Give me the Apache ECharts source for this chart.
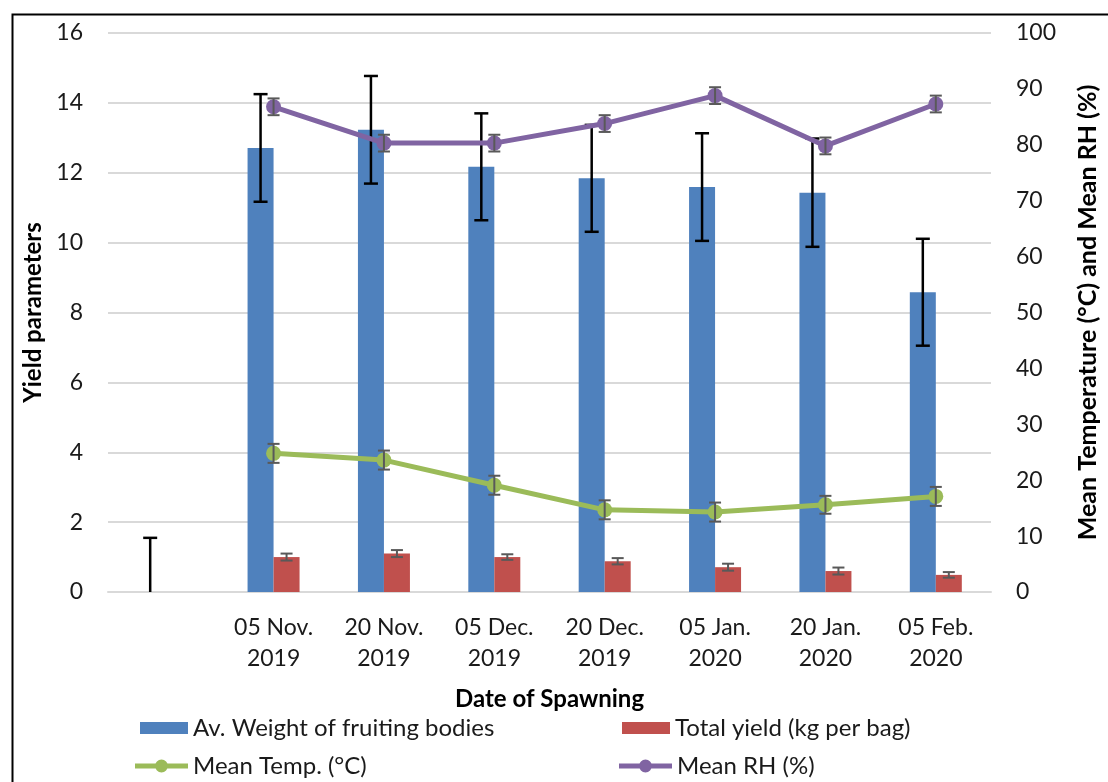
<!DOCTYPE html>
<html>
<head>
<meta charset="utf-8">
<script src="https://cdn.jsdelivr.net/npm/echarts@6/dist/echarts.min.js"></script>
<style>
html,body{margin:0;padding:0;background:#fff;}
#chart{width:1108px;height:782px;}
</style>
</head>
<body>
<div id="chart"></div>
<script>
// ---- data ----
var categories = ['', '05 Nov.\n2019', '20 Nov.\n2019', '05 Dec.\n2019', '20 Dec.\n2019', '05 Jan.\n2020', '20 Jan.\n2020', '05 Feb.\n2020'];
var avgWeight   = [0, 12.71, 13.23, 12.17, 11.84, 11.59, 11.43, 8.58];
var avgWeightSD = [1.55, 1.54, 1.54, 1.53, 1.53, 1.54, 1.55, 1.53];
var totalYield   = [null, 1.00, 1.10, 1.00, 0.88, 0.71, 0.60, 0.49];
var totalYieldSD = [null, 0.10, 0.10, 0.08, 0.09, 0.10, 0.10, 0.08];
var meanTemp   = [null, 24.8, 23.6, 19.1, 14.7, 14.3, 15.6, 17.1];
var meanTempSD = [null, 1.7, 1.7, 1.7, 1.7, 1.7, 1.6, 1.7];
var meanRH   = [null, 86.8, 80.3, 80.3, 83.8, 88.8, 79.8, 87.3];
var meanRHSD = [null, 1.5, 1.5, 1.5, 1.5, 1.5, 1.5, 1.5];
var leftTicks = {min: 0, max: 16, interval: 2};
var rightTicks = {min: 0, max: 100, interval: 10};

var FONT = 'Lato';
var C_BLUE = '#4F81BD', C_RED = '#C0504D', C_GREEN = '#9BBB59', C_PURPLE = '#8064A2';
var LINE_ICON = 'path://M0,4.5 L53,4.5 L53,9.5 L0,9.5 Z M20,7 A6.5,6.5 0 1,1 33,7 A6.5,6.5 0 1,1 20,7 Z';

function errData(vals, sds) {
  var out = [];
  vals.forEach(function (v, i) {
    if (v == null || sds[i] == null) return;
    out.push([i, v - sds[i], v + sds[i]]);
  });
  return out;
}
function errSeries(vals, sds, offset, color, capHalf, lw, yAxisIndex, axisMin, z) {
  return {
    type: 'custom',
    yAxisIndex: yAxisIndex,
    z: z,
    silent: true,
    encode: {x: 0, y: [1, 2]},
    data: errData(vals, sds),
    renderItem: function (params, api) {
      var i = api.value(0), lo = api.value(1), hi = api.value(2);
      var bottomCap = true;
      if (lo < axisMin) { lo = axisMin; bottomCap = false; }
      var pLo = api.coord([i, lo]), pHi = api.coord([i, hi]);
      var x = pLo[0] + offset;
      var st = {stroke: color, lineWidth: lw};
      var ch = [
        {type: 'line', shape: {x1: x, y1: pLo[1], x2: x, y2: pHi[1]}, style: st},
        {type: 'line', shape: {x1: x - capHalf, y1: pHi[1], x2: x + capHalf, y2: pHi[1]}, style: st}
      ];
      if (bottomCap) ch.push({type: 'line', shape: {x1: x - capHalf, y1: pLo[1], x2: x + capHalf, y2: pLo[1]}, style: st});
      return {type: 'group', children: ch};
    }
  };
}

var chart = echarts.init(document.getElementById('chart'), null, {renderer: 'canvas'});
var legendText = {fontFamily: FONT, fontSize: 24, color: '#1a1a1a'};
var legendBase = {padding: 0, selectedMode: false, textStyle: legendText};
var option = {
  backgroundColor: '#fff',
  animation: false,
  graphic: [{
    type: 'rect', left: 10, top: 12, z: 0,
    shape: {width: 1110, height: 790},
    style: {fill: 'none', stroke: '#000', lineWidth: 2}
  }],
  grid: {left: 108, right: 110, top: 33, bottom: 190, containLabel: false},
  legend: [
    Object.assign({data: [{name: 'Av. Weight of fruiting bodies', icon: 'rect'}], left: 140, top: 716, itemWidth: 48, itemHeight: 12}, legendBase),
    Object.assign({data: [{name: 'Total yield (kg per bag)', icon: 'rect'}], left: 622, top: 716, itemWidth: 48, itemHeight: 12}, legendBase),
    Object.assign({data: [{name: 'Mean Temp. (°C)', icon: LINE_ICON}], left: 135, top: 754, itemWidth: 53, itemHeight: 14,
                   itemStyle: {borderWidth: 0}, lineStyle: {width: 0}}, legendBase),
    Object.assign({data: [{name: 'Mean RH (%)', icon: LINE_ICON}], left: 619, top: 754, itemWidth: 53, itemHeight: 14,
                   itemStyle: {borderWidth: 0}, lineStyle: {width: 0}}, legendBase)
  ],
  xAxis: {
    type: 'category',
    data: categories,
    name: 'Date of Spawning',
    nameLocation: 'middle',
    nameGap: 95,
    nameTextStyle: {fontFamily: FONT, fontSize: 24, fontWeight: 'bold', color: '#000'},
    axisLine: {show: true, lineStyle: {color: '#D9D9D9', width: 2}},
    axisTick: {show: false},
    axisLabel: {fontFamily: FONT, fontSize: 23, color: '#1a1a1a', lineHeight: 31, margin: 20, interval: 0}
  },
  yAxis: [{
    type: 'value',
    min: leftTicks.min, max: leftTicks.max, interval: leftTicks.interval,
    name: 'Yield parameters',
    nameLocation: 'middle',
    nameGap: 60,
    nameRotate: 90,
    nameTextStyle: {fontFamily: FONT, fontSize: 24, fontWeight: 'bold', color: '#000'},
    axisLine: {show: false}, axisTick: {show: false},
    axisLabel: {fontFamily: FONT, fontSize: 23, color: '#1a1a1a', margin: 25},
    splitLine: {show: true, lineStyle: {color: '#D9D9D9', width: 2}}
  }, {
    type: 'value',
    min: rightTicks.min, max: rightTicks.max, interval: rightTicks.interval,
    position: 'right',
    name: 'Mean Temperature (°C) and Mean RH (%)',
    nameLocation: 'middle',
    nameGap: 84,
    nameRotate: 90,
    nameTextStyle: {fontFamily: FONT, fontSize: 25, fontWeight: 'bold', color: '#000'},
    axisLine: {show: false}, axisTick: {show: false},
    axisLabel: {fontFamily: FONT, fontSize: 23, color: '#1a1a1a', margin: 25},
    splitLine: {show: false}
  }],
  series: [
    {name: 'Av. Weight of fruiting bodies', type: 'bar', data: avgWeight, barWidth: 26, barGap: '0%', itemStyle: {color: C_BLUE}, z: 2},
    {name: 'Total yield (kg per bag)', type: 'bar', data: totalYield, barWidth: 26, barGap: '0%', itemStyle: {color: C_RED}, z: 2},
    errSeries(avgWeight, avgWeightSD, -13, '#000', 7, 2.5, 0, 0, 3),
    errSeries(totalYield, totalYieldSD, 13, '#595959', 6, 2, 0, 0, 3),
    {name: 'Mean Temp. (°C)', type: 'line', yAxisIndex: 1, data: meanTemp, symbol: 'circle', symbolSize: 15,
     lineStyle: {color: C_GREEN, width: 5}, itemStyle: {color: C_GREEN}, z: 4},
    {name: 'Mean RH (%)', type: 'line', yAxisIndex: 1, data: meanRH, symbol: 'circle', symbolSize: 15,
     lineStyle: {color: C_PURPLE, width: 5}, itemStyle: {color: C_PURPLE}, z: 4},
    errSeries(meanTemp, meanTempSD, 0, '#595959', 6, 2, 1, 0, 5),
    errSeries(meanRH, meanRHSD, 0, '#595959', 6, 2, 1, 0, 5)
  ]
};
chart.setOption(option);
</script>
</body>
</html>
